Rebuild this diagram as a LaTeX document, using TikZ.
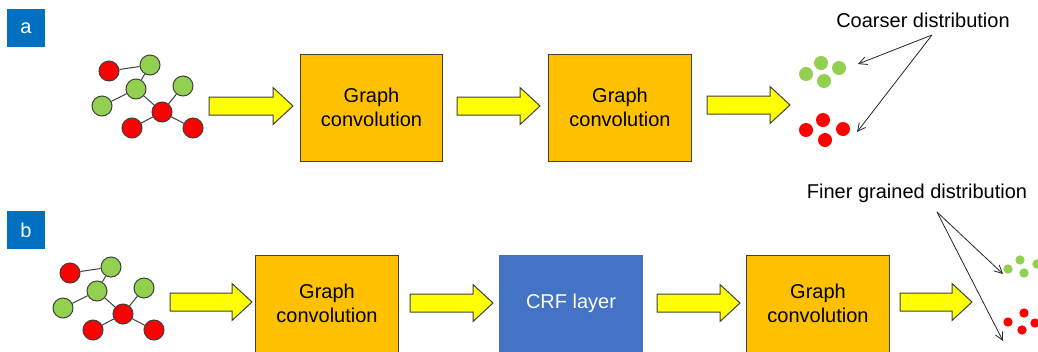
\documentclass[tikz,border=0pt]{standalone}
\usepackage{fontspec}
\setmainfont{Liberation Sans}
\usetikzlibrary{arrows.meta}
\definecolor{tagblue}{HTML}{0070C0}
\definecolor{gcgold}{HTML}{FFC000}
\definecolor{crfblue}{HTML}{4472C4}
\definecolor{arrowyellow}{HTML}{FFFF00}
\definecolor{nodered}{HTML}{FF0000}
\definecolor{nodegreen}{HTML}{92D050}
\definecolor{edgegray}{HTML}{404040}
\begin{document}
\begin{tikzpicture}[x=0.75pt,y=-0.75pt]
\tikzstyle{every node}+=[inner sep=0pt]
\tikzset{
  tagbox/.style={fill=tagblue,text=white,minimum size=28.5pt,font=\fontsize{15}{18}\selectfont},
  rnode/.style={circle,draw=edgegray,fill=nodered,line width=0.75pt,minimum size=15pt},
  gnode/.style={rnode,fill=nodegreen},
  gcbox/.style={draw=edgegray,fill=gcgold,line width=0.75pt,minimum width=107pt,
    align=center,font=\fontsize{15}{18}\selectfont},
  crfbox/.style={gcbox,draw=crfblue,fill=crfblue,text=white},
  label/.style={font=\fontsize{15}{18}\selectfont},
  rdot/.style={circle,fill=nodered,minimum size=#1},
  gdot/.style={circle,fill=nodegreen,minimum size=#1},
  pointer/.style={-{Straight Barb[length=6pt,width=6pt]},line width=0.6pt,black!85},
  blockarrow/.pic={
    \draw[edgegray,fill=arrowyellow,line width=0.75pt,line join=miter]
      (0,-9) -- (#1-20,-9) -- (#1-20,-18.5) -- (#1,0) -- (#1-20,18.5)
      -- (#1-20,9) -- (0,9) -- cycle;
  }
}
\clip (0,0) rectangle (1038,351);
\fill[white] (0,0) rectangle (1038,351);

% panel tags
\node[tagbox] (taga) at (26,28) {a};
\node[tagbox] (tagb) at (26,230) {b};

% input graphs
\foreach \g/\dx/\dy in {a/0/0, b/-39/202} {
  \begin{scope}[shift={(\dx,\dy)}]
    \node[rnode] (\g r1) at (109,71) {};
    \node[gnode] (\g g1) at (150,65) {};
    \node[gnode] (\g g2) at (136,89) {};
    \node[gnode] (\g g3) at (183,86) {};
    \node[gnode] (\g g4) at (102,106) {};
    \node[rnode] (\g rc) at (162,112) {};
    \node[rnode] (\g r2) at (132,128) {};
    \node[rnode] (\g r3) at (193,128) {};
    \draw[edgegray,line width=0.75pt] (\g r1) -- (\g g1) (\g g1) -- (\g g2)
      (\g g2) -- (\g g4) (\g g2) -- (\g rc) (\g g3) -- (\g rc)
      (\g rc) -- (\g r2) (\g rc) -- (\g r3);
  \end{scope}
}

% row a
\pic at (209,106) {blockarrow=84};
\node[gcbox,minimum height=80.25pt] (conva1) at (371.5,107.5) {Graph\\convolution};
\pic at (457,106) {blockarrow=83};
\node[gcbox,minimum height=80.25pt] (conva2) at (620,107.5) {Graph\\convolution};
\pic at (707,105) {blockarrow=83};

\node[gdot=10.5pt] (ga1) at (806,74) {};
\node[gdot=10.5pt] (ga2) at (821,63) {};
\node[gdot=10.5pt] (ga3) at (839,68) {};
\node[gdot=10.5pt] (ga4) at (824,81) {};
\node[rdot=10.5pt] (ra1) at (806,130) {};
\node[rdot=10.5pt] (ra2) at (823,120) {};
\node[rdot=10.5pt] (ra3) at (843,129) {};
\node[rdot=10.5pt] (ra4) at (825,140) {};

\node[label] (coarse) at (923,20) {Coarser distribution};
\coordinate (coarsefoot) at (932,35);
\coordinate (coarseg) at (858,64);
\coordinate (coarser) at (857,132);
\draw[pointer] (coarsefoot) -- (coarseg);
\draw[pointer] (coarsefoot) -- (coarser);

% row b
\pic at (170,302) {blockarrow=82};
\node[gcbox,minimum height=72.75pt] (convb1) at (327,303.5) {Graph\\convolution};
\pic at (410,303) {blockarrow=83};
\node[crfbox,minimum height=72.75pt] (crf) at (571,303.5) {CRF layer};
\pic at (657,303) {blockarrow=83};
\node[gcbox,minimum height=72.75pt] (convb2) at (818,303.5) {Graph\\convolution};
\pic at (900,302) {blockarrow=72};

\node[gdot=7pt] (gb1) at (1008,269) {};
\node[gdot=7pt] (gb2) at (1020,260) {};
\node[gdot=7pt] (gb3) at (1024,273) {};
\node[gdot=7pt] (gb4) at (1037,264) {};
\node[rdot=7pt] (rb1) at (1008,322) {};
\node[rdot=7pt] (rb2) at (1024,313) {};
\node[rdot=7pt] (rb3) at (1022,330) {};
\node[rdot=7pt] (rb4) at (1035,323) {};

\node[label] (finer) at (917,193) {Finer grained distribution};
\coordinate (finerfoot) at (937,212);
\coordinate (finerg) at (1003,274);
\coordinate (finerr) at (1003,341);
\draw[pointer] (finerfoot) -- (finerg);
\draw[pointer] (finerfoot) -- (finerr);
\end{tikzpicture}
\end{document}
